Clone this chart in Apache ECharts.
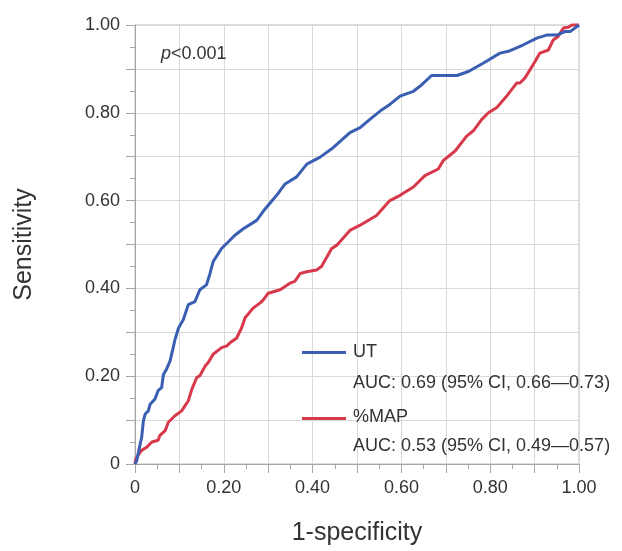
<!DOCTYPE html>
<html>
<head>
<meta charset="utf-8">
<script src="https://cdn.jsdelivr.net/npm/echarts@6/dist/echarts.min.js"></script>
<style>html,body{margin:0;padding:0;background:#fff}#c{width:622px;height:551px}</style>
</head>
<body>
<div id="c"></div>
<script>
// UT ROC curve (1-specificity, sensitivity)
const utFpr = [0,0.004,0.007,0.015,0.019,0.023,0.030,0.034,0.045,0.052,0.060,0.064,0.071,0.079,0.086,0.090,0.098,0.109,0.120,0.135,0.146,0.161,0.169,0.176,0.195,0.225,0.244,0.274,0.293,0.319,0.338,0.364,0.387,0.417,0.447,0.484,0.507,0.529,0.552,0.574,0.597,0.627,0.646,0.668,0.725,0.751,0.784,0.822,0.841,0.875,0.905,0.927,0.950,0.968,0.980,1.0];
const utTpr = [0,0.008,0.023,0.061,0.099,0.114,0.121,0.136,0.148,0.167,0.174,0.204,0.216,0.235,0.265,0.283,0.310,0.329,0.363,0.370,0.397,0.408,0.434,0.461,0.491,0.521,0.536,0.555,0.581,0.612,0.638,0.654,0.683,0.699,0.721,0.755,0.766,0.785,0.804,0.819,0.838,0.849,0.864,0.885,0.885,0.894,0.913,0.936,0.940,0.955,0.970,0.977,0.977,0.985,0.985,1.0];
// %MAP ROC curve
const mapFpr = [0,0.002,0.007,0.015,0.026,0.038,0.052,0.056,0.068,0.075,0.090,0.105,0.120,0.128,0.139,0.146,0.158,0.165,0.176,0.195,0.207,0.214,0.229,0.240,0.248,0.266,0.282,0.289,0.300,0.327,0.349,0.360,0.372,0.387,0.409,0.420,0.443,0.454,0.484,0.507,0.544,0.574,0.597,0.627,0.653,0.683,0.694,0.721,0.747,0.762,0.781,0.796,0.815,0.837,0.860,0.867,0.878,0.897,0.912,0.931,0.942,0.953,0.965,0.976,0.984,0.998,1.0];
const mapTpr = [0,0.012,0.020,0.031,0.038,0.050,0.054,0.065,0.076,0.095,0.110,0.121,0.144,0.170,0.197,0.201,0.223,0.231,0.250,0.265,0.269,0.276,0.287,0.310,0.333,0.355,0.367,0.374,0.389,0.397,0.412,0.416,0.434,0.438,0.442,0.450,0.491,0.498,0.532,0.544,0.566,0.600,0.612,0.631,0.657,0.672,0.691,0.713,0.747,0.759,0.785,0.800,0.812,0.838,0.868,0.868,0.879,0.910,0.936,0.943,0.966,0.974,0.993,0.995,1.0,1.0,1.0];

const seriesNames = ['UT', '%MAP'];
const aucLabels = ['AUC: 0.69 (95% CI, 0.66\u20140.73)', 'AUC: 0.53 (95% CI, 0.49\u20140.57)'];
const pLabel = '<0.001';

const BLUE = '#3a5fb2';
const RED = '#d8394a';
const TXT = '#333333';
const FONT = '"Liberation Sans", Arial, sans-serif';

function zip(a, b) { return a.map((v, i) => [v, b[i]]); }
function fmt(v) {
  const r = Math.round(v * 10);
  if (r % 2 !== 0) return '';
  return r === 0 ? '0' : (r / 10).toFixed(2);
}

const axisCommon = {
  type: 'value', min: 0, max: 1, interval: 0.1,
  axisLine: { show: true, lineStyle: { color: '#a6a6a6', width: 1 } },
  axisTick: { show: true, length: 9, lineStyle: { color: '#a6a6a6' } },
  minorTick: { show: true, splitNumber: 2, length: 5, lineStyle: { color: '#a6a6a6' } },
  splitLine: { show: true, lineStyle: { color: '#d9d9d9', width: 1 } },
  axisLabel: { formatter: fmt, color: TXT, fontSize: 18, fontFamily: FONT, margin: 15 },
  nameLocation: 'middle',
  nameTextStyle: { color: TXT, fontSize: 25, fontFamily: FONT }
};

const chart = echarts.init(document.getElementById('c'), null, { renderer: 'canvas' });
chart.setOption({
  animation: false,
  backgroundColor: '#ffffff',
  grid: { left: 135, right: 43, top: 25, bottom: 84, show: true, borderColor: '#bdbdbd', borderWidth: 1 },
  xAxis: Object.assign({}, axisCommon, { name: '1-specificity', nameGap: 57 }),
  yAxis: Object.assign({}, axisCommon, { name: 'Sensitivity', nameGap: 98 }),
  series: [
    { name: seriesNames[0], type: 'line', data: zip(utFpr, utTpr), showSymbol: false, clip: false,
      lineStyle: { color: BLUE, width: 3 }, itemStyle: { color: BLUE }, z: 3 },
    { name: seriesNames[1], type: 'line', data: zip(mapFpr, mapTpr), showSymbol: false, clip: false,
      lineStyle: { color: RED, width: 3 }, itemStyle: { color: RED }, z: 2 }
  ],
  graphic: [
    { type: 'text', left: 161, top: 45, z: 10,
      style: { text: '{i|p}' + pLabel, font: '18px ' + FONT, fill: TXT,
        rich: { i: { fontStyle: 'italic', fontSize: 18, fontFamily: FONT, fill: TXT } } } },
    { type: 'line', z: 10, shape: { x1: 302, y1: 352.5, x2: 346, y2: 352.5 }, style: { stroke: BLUE, lineWidth: 3 } },
    { type: 'text', z: 10, x: 353, y: 352, style: { text: seriesNames[0], font: '18px ' + FONT, fill: TXT, verticalAlign: 'middle' } },
    { type: 'text', z: 10, x: 353, y: 383, style: { text: aucLabels[0], font: '18px ' + FONT, fill: TXT, verticalAlign: 'middle' } },
    { type: 'line', z: 10, shape: { x1: 302, y1: 418.5, x2: 346, y2: 418.5 }, style: { stroke: RED, lineWidth: 3 } },
    { type: 'text', z: 10, x: 353, y: 417, style: { text: seriesNames[1], font: '18px ' + FONT, fill: TXT, verticalAlign: 'middle' } },
    { type: 'text', z: 10, x: 353, y: 446, style: { text: aucLabels[1], font: '18px ' + FONT, fill: TXT, verticalAlign: 'middle' } }
  ]
});
</script>
</body>
</html>
